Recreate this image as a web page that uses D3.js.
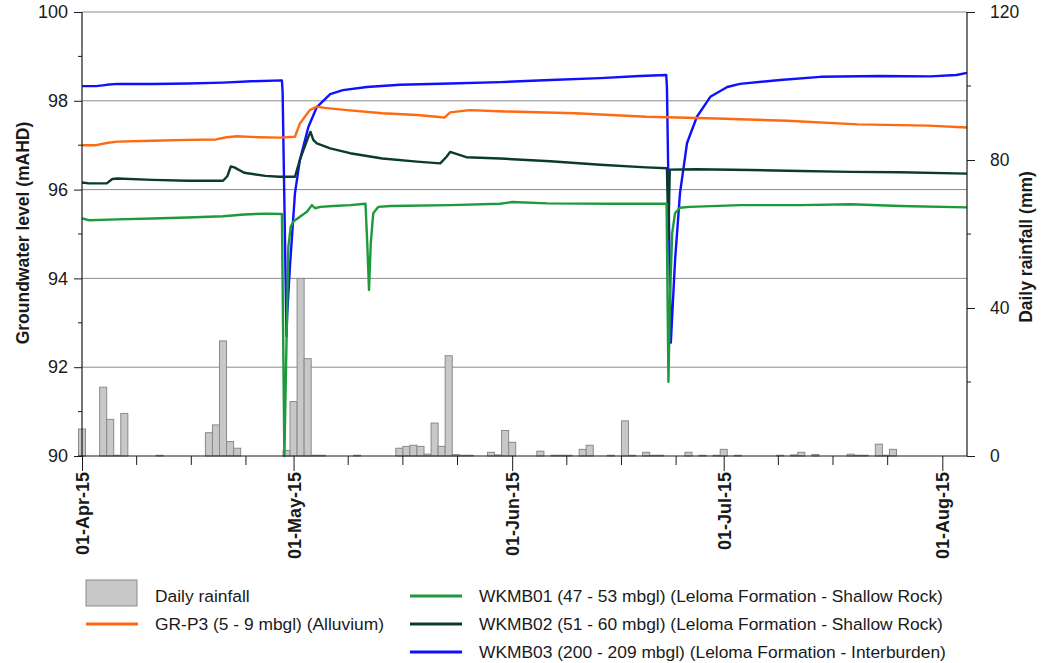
<!DOCTYPE html>
<html><head><meta charset="utf-8">
<script src="https://cdn.jsdelivr.net/npm/d3@7"></script>
<style>
body{margin:0;background:#fff;}
svg{font-family:"Liberation Sans",Arial,sans-serif;}
</style></head>
<body><svg id="c" width="1045" height="663"></svg>
<script>
// ---------- DATA ----------
const baseDate = "2015-04-01";           // day 0 of the logger series
const yLeftTicks = [90, 92, 94, 96, 98, 100];
const yRightTicks = [0, 40, 80, 120];
const monthTicks = ["2015-04-01","2015-05-01","2015-06-01","2015-07-01","2015-08-01"];

const rainDates = ["2015-04-01","2015-04-04","2015-04-05","2015-04-06","2015-04-07","2015-04-12",
 "2015-04-19","2015-04-20","2015-04-21","2015-04-22","2015-04-23","2015-04-30","2015-05-01","2015-05-02",
 "2015-05-03","2015-05-04","2015-05-05","2015-05-10","2015-05-16","2015-05-17","2015-05-18","2015-05-19",
 "2015-05-20","2015-05-21","2015-05-22","2015-05-23","2015-05-24","2015-05-25","2015-05-26","2015-05-29",
 "2015-05-30","2015-05-31","2015-06-01","2015-06-05","2015-06-07","2015-06-08","2015-06-09","2015-06-11",
 "2015-06-12","2015-06-15","2015-06-17","2015-06-18","2015-06-20","2015-06-21","2015-06-22","2015-06-26",
 "2015-06-28","2015-06-30","2015-07-01","2015-07-03","2015-07-09","2015-07-11","2015-07-12","2015-07-14",
 "2015-07-19","2015-07-20","2015-07-21","2015-07-23","2015-07-24","2015-07-25"];
const rainMm = [7.3,18.6,9.9,0.2,11.5,0.2,
 6.3,8.4,31.1,3.9,2.1,1.5,14.7,48,
 26.3,0.2,0.2,0.2,2.1,2.6,2.9,2.6,
 0.5,8.9,2.6,27.1,0.4,0.2,0.2,1.0,
 0.3,6.9,3.7,1.3,0.2,0.2,0.2,1.8,
 2.9,0.2,9.5,0.2,1.0,0.2,0.2,1.0,
 0.2,0.2,1.8,0.2,0.2,0.3,1.0,0.4,
 0.5,0.2,0.2,3.2,0.2,1.8];

// [day offset from baseDate, level mAHD]
const grp3 = [[0,97.0],[2,97.0],[3.5,97.05],[5,97.08],[10,97.1],[15,97.12],[19,97.13],[20.5,97.18],[22,97.2],
 [25,97.18],[28,97.17],[30.2,97.19],[30.9,97.49],[32.3,97.79],[33.3,97.87],[34.4,97.84],[37.6,97.79],[42.6,97.72],
 [47.5,97.68],[50.3,97.64],[51.4,97.62],[52.2,97.74],[55,97.79],[60,97.76],[70,97.72],[80,97.64],[90,97.6],
 [100,97.55],[110,97.47],[120,97.44],[125.5,97.4]];
const wkmb01 = [[0,95.35],[1,95.31],[5,95.33],[10,95.35],[15,95.37],[20,95.4],[23,95.44],[26,95.46],[28.35,95.45],
 [28.7,90.0],[29.04,92.91],[29.26,94.71],[29.6,95.16],[29.97,95.28],[30.9,95.39],[31.9,95.5],[32.6,95.65],
 [33.05,95.58],[33.8,95.61],[35.6,95.63],[38,95.65],[40.2,95.68],[40.45,94.8],[40.7,93.74],[40.95,94.79],
 [41.3,95.47],[42,95.61],[43.7,95.63],[52.2,95.65],[59.3,95.68],[61,95.72],[66,95.69],[75,95.68],[82.9,95.68],
 [83.16,91.67],[83.4,93.67],[83.69,95.02],[84.1,95.47],[84.8,95.59],[86.2,95.61],[93.3,95.65],[101.9,95.65],
 [109,95.67],[116,95.63],[125.5,95.6]];
const wkmb02 = [[0,96.16],[1,96.14],[3.5,96.14],[4.3,96.24],[5,96.25],[10,96.22],[15,96.2],[20,96.2],[20.6,96.3],
 [21.1,96.52],[21.6,96.5],[23,96.38],[26,96.31],[28,96.29],[30.2,96.29],[30.9,96.67],[31.4,96.89],[32.1,97.19],
 [32.4,97.3],[32.8,97.12],[33.3,97.04],[35.2,96.93],[38,96.82],[42.6,96.7],[47.5,96.63],[50.8,96.59],[51.7,96.74],
 [52.2,96.85],[54.5,96.73],[59.3,96.7],[66.4,96.64],[73.5,96.56],[80,96.5],[82.95,96.48],[83.15,94.9],[83.35,96.45],
 [87,96.46],[94.8,96.44],[101.9,96.42],[109,96.4],[116,96.39],[125.5,96.36]];
const wkmb03 = [[0,98.33],[2,98.33],[3.5,98.36],[5,98.38],[10,98.38],[15,98.39],[20,98.41],[24,98.44],[28.35,98.46],
 [28.45,98.2],[29.0,92.7],[29.1,93.2],[29.5,94.3],[30.2,95.92],[30.9,96.67],[32.1,97.41],[33.3,97.86],[35.2,98.15],
 [37,98.24],[40.4,98.31],[45.1,98.36],[52.2,98.39],[59.3,98.42],[66.4,98.47],[73.5,98.51],[79.1,98.56],[82.85,98.58],
 [82.95,98.3],[83.5,92.55],[84.1,94.41],[84.8,95.92],[85.8,97.05],[87.2,97.64],[89.1,98.09],[91.5,98.31],[93.3,98.38],
 [99,98.47],[104.7,98.54],[113.2,98.56],[120.3,98.55],[124,98.58],[125.5,98.63]];

const seriesNames = ["Daily rainfall","GR-P3 (5 - 9 mbgl) (Alluvium)",
 "WKMB01 (47 - 53 mbgl) (Leloma Formation - Shallow Rock)",
 "WKMB02 (51 - 60 mbgl) (Leloma Formation - Shallow Rock)",
 "WKMB03 (200 - 209 mbgl) (Leloma Formation - Interburden)"];

// ---------- DRAW ----------
const svg = d3.select("#c");
const L = 82, R = 967, T = 12, B = 456;
const DAY = 864e5;
const t0 = new Date(baseDate + "T00:00:00Z");
const toDate = d => new Date(t0.getTime() + d * DAY);
const x = d3.scaleUtc().domain([t0, toDate(125.5)]).range([L, R]);
const y = d3.scaleLinear().domain([90, 100]).range([B, T]);
const y2 = d3.scaleLinear().domain([0, 120]).range([B, T]);
const INK = "#1a1a1a";

// gridlines
svg.append("g").selectAll("line").data(yLeftTicks.filter(v => v > 90)).join("line")
  .attr("x1", L).attr("x2", R).attr("y1", d => y(d)).attr("y2", d => y(d))
  .attr("stroke", "#8c8c8c").attr("stroke-width", 1);

// rainfall bars
const dayW = x(toDate(1)) - x(toDate(0));
svg.append("g").selectAll("rect").data(rainDates.map((d, i) => ({d: new Date(d + "T00:00:00Z"), v: rainMm[i]})))
  .join("rect")
  .attr("x", d => x(d.d) - dayW / 2).attr("width", dayW)
  .attr("y", d => y2(d.v)).attr("height", d => B - y2(d.v))
  .attr("fill", "#c8c8c8").attr("stroke", "#8a8a8a").attr("stroke-width", 1);

// lines
const line = d3.line().x(d => x(toDate(d[0]))).y(d => y(d[1]));
const lines = [
  {data: wkmb03, color: "#1010ff"},
  {data: grp3, color: "#ff6a10"},
  {data: wkmb02, color: "#0b3a2f"},
  {data: wkmb01, color: "#1c9a3c"}
];
svg.append("g").selectAll("path").data(lines).join("path")
  .attr("d", d => line(d.data)).attr("fill", "none")
  .attr("stroke", d => d.color).attr("stroke-width", 2.4).attr("stroke-linejoin", "round");

// axes lines
const ax = svg.append("g").attr("stroke", INK).attr("stroke-width", 1.2);
ax.append("line").attr("x1", L).attr("x2", L).attr("y1", T).attr("y2", B);
ax.append("line").attr("x1", R).attr("x2", R).attr("y1", T).attr("y2", B);
ax.append("line").attr("x1", L - 4).attr("x2", R).attr("y1", B).attr("y2", B);

// left axis
const yL = d3.axisLeft(y).tickValues(yLeftTicks).tickSize(8).tickPadding(6).tickFormat(d3.format("d"));
const gL = svg.append("g").attr("transform", `translate(${L},0)`).call(yL);
gL.selectAll(".minor").data(d3.range(91, 100, 2)).join("line").attr("class", "minor")
  .attr("x1", -4).attr("x2", 0).attr("y1", d => y(d)).attr("y2", d => y(d)).attr("stroke", INK);

// right axis
const yR = d3.axisRight(y2).tickValues(yRightTicks).tickSize(8).tickPadding(15);
const gR = svg.append("g").attr("transform", `translate(${R},0)`).call(yR);
gR.selectAll(".minor").data([20, 60, 100]).join("line").attr("class", "minor")
  .attr("x1", 0).attr("x2", 4).attr("y1", d => y2(d)).attr("y2", d => y2(d)).attr("stroke", INK);

// x axis
const majors = monthTicks.map(s => new Date(s + "T00:00:00Z"));
const minors = [];
majors.forEach(m => { for (let k = 1; k <= 3; k++) { const t = new Date(m.getTime() + 7.75 * k * DAY); if (t < x.domain()[1]) minors.push(t); } });
const xA = d3.axisBottom(x).tickValues(majors).tickSize(15).tickFormat(d3.utcFormat("%d-%b-%y"));
const gX = svg.append("g").attr("transform", `translate(0,${B})`).call(xA);
gX.selectAll(".minor").data(minors).join("line").attr("class", "minor")
  .attr("x1", d => x(d)).attr("x2", d => x(d)).attr("y1", 0).attr("y2", 9).attr("stroke", INK);
gX.selectAll(".tick text").attr("transform", "rotate(-90)")
  .attr("text-anchor", "end").attr("x", -16).attr("y", 0).attr("dy", "0.36em")
  .style("font-size", "18px").style("font-weight", "bold").attr("fill", INK);

[gL, gR, gX].forEach(g => { g.select(".domain").remove(); g.selectAll(".tick line").attr("stroke", INK); });
gL.selectAll(".tick text").style("font-size", "18px").attr("fill", INK);
gR.selectAll(".tick text").style("font-size", "17.5px").attr("fill", INK);

// axis titles
svg.append("text").attr("transform", "translate(23,233) rotate(-90)").attr("text-anchor", "middle").attr("dy", "0.35em")
  .style("font-size", "17.5px").style("font-weight", "bold").attr("fill", INK).text("Groundwater level (mAHD)");
svg.append("text").attr("transform", "translate(1026,247) rotate(-90)").attr("text-anchor", "middle").attr("dy", "0.35em")
  .style("font-size", "17.5px").style("font-weight", "bold").attr("fill", INK).text("Daily rainfall (mm)");

// legend
const lg = svg.append("g").style("font-size", "17.4px").attr("fill", INK);
const items = [
  {type: "rect", x: 86, y: 593, name: seriesNames[0]},
  {type: "line", x: 86, y: 624, name: seriesNames[1], color: "#ff6a10"},
  {type: "line", x: 410, y: 596, name: seriesNames[2], color: "#1c9a3c"},
  {type: "line", x: 410, y: 624, name: seriesNames[3], color: "#0b3a2f"},
  {type: "line", x: 410, y: 652, name: seriesNames[4], color: "#1010ff"}
];
items.forEach(it => {
  if (it.type === "rect") {
    lg.append("rect").attr("x", it.x).attr("y", it.y - 13).attr("width", 51).attr("height", 26)
      .attr("fill", "#c8c8c8").attr("stroke", "#8a8a8a");
  } else {
    lg.append("line").attr("x1", it.x).attr("x2", it.x + 52).attr("y1", it.y).attr("y2", it.y)
      .attr("stroke", it.color).attr("stroke-width", 3);
  }
  lg.append("text").attr("x", it.x + 69).attr("y", it.type === "rect" ? 596 : it.y).attr("dy", "0.35em").text(it.name);
});
</script></body></html>
